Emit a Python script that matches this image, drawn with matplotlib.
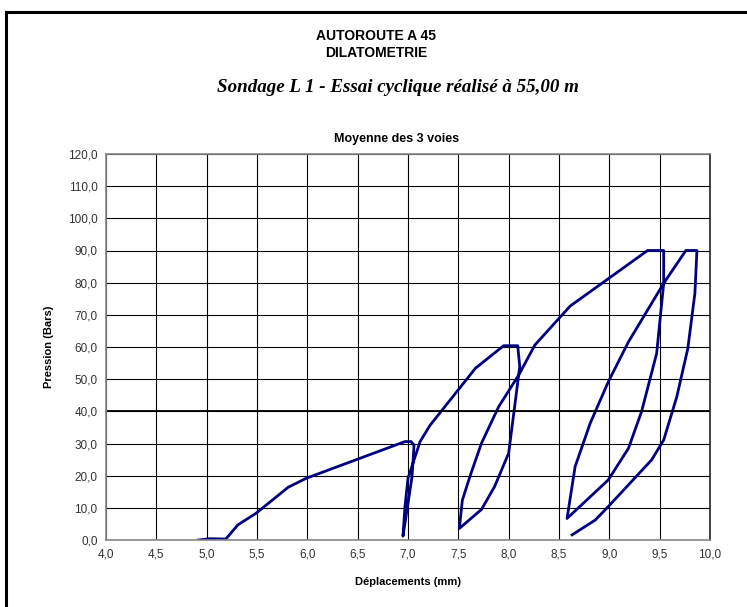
import matplotlib
matplotlib.use("Agg")
import matplotlib.pyplot as plt
from matplotlib.patches import Rectangle
from matplotlib.ticker import FuncFormatter, MultipleLocator

# Data
deplacement = [4.92, 5.03, 5.19, 5.31, 5.49, 5.81, 5.99, 6.97, 7.03, 7.06,
               7.04, 6.99, 6.95, 6.97, 7.00, 7.06, 7.12, 7.22, 7.67, 7.95,
               8.09, 8.11, 8.00, 7.86, 7.73, 7.51, 7.54, 7.62, 7.73, 7.90,
               8.10, 8.26, 8.61, 9.38, 9.54, 9.54, 9.47, 9.32, 9.19, 8.99,
               8.58, 8.66, 8.81, 8.99, 9.19, 9.54, 9.76, 9.87, 9.85, 9.78,
               9.67, 9.54, 9.42, 8.99, 8.86, 8.63]
pression = [0.0, 0.4, 0.3, 4.7, 8.3, 16.4, 19.2, 30.6, 30.6, 29.5,
            19.7, 9.3, 1.2, 10.4, 19.2, 24.9, 30.6, 35.7, 53.4, 60.4,
            60.4, 53.9, 27.0, 16.6, 9.5, 3.6, 12.4, 20.2, 30.1, 41.4,
            51.3, 60.6, 72.7, 90.0, 90.0, 79.8, 58.0, 39.9, 28.5, 18.7,
            6.7, 22.8, 36.3, 49.2, 61.6, 79.8, 90.0, 90.0, 76.7, 59.6,
            44.5, 31.1, 24.9, 10.4, 6.2, 1.6]

title1 = "AUTOROUTE A 45"
title2 = "DILATOMETRIE"
subtitle = "Sondage L 1 - Essai cyclique réalisé à 55,00 m"
chart_title = "Moyenne des 3 voies"
xlabel = "Déplacements (mm)"
ylabel = "Pression (Bars)"

W, H = 747, 607
fig = plt.figure(figsize=(W / 100, H / 100), dpi=100)
plt.rcParams['font.family'] = ['Liberation Sans', 'DejaVu Sans']

L, R, T, B = 106, 710, 154, 540
ax = fig.add_axes([L / W, 1 - B / H, (R - L) / W, (B - T) / H])

ax.plot(deplacement, pression, color='#000080', lw=2.0, solid_joinstyle='round')

ax.set_xlim(4.0, 10.0)
ax.set_ylim(0, 120)
ax.xaxis.set_major_locator(MultipleLocator(0.5))
ax.yaxis.set_major_locator(MultipleLocator(10))
fmt = FuncFormatter(lambda v, p: f"{v:.1f}".replace('.', ','))
ax.xaxis.set_major_formatter(fmt)
ax.yaxis.set_major_formatter(fmt)
ax.grid(True, color='black', lw=0.8)
ax.axhline(40, color='black', lw=1.3)
ax.set_axisbelow(True)
ax.tick_params(axis='both', length=0, pad=6, labelsize=8.5, labelcolor='#333333')
for s in ax.spines.values():
    s.set_color('#888888')
    s.set_linewidth(1.2)
ax.spines['right'].set_color('#222222')

ax.set_xlabel(xlabel, fontsize=8, fontweight='bold', labelpad=12)
ax.set_ylabel(ylabel, fontsize=8, fontweight='bold', labelpad=10)

def fx(px):
    return px / W

def fy(py):
    return 1 - py / H

fig.text(fx(376), fy(36), title1, ha='center', va='center', fontsize=10, fontweight='bold')
fig.text(fx(376), fy(53), title2, ha='center', va='center', fontsize=10, fontweight='bold')
fig.text(fx(398), fy(88), subtitle, ha='center', va='center', fontsize=13.7,
         fontstyle='italic', fontweight='bold', family=['Liberation Serif', 'DejaVu Serif'])
fig.text(fx(397), fy(139), chart_title, ha='center', va='center', fontsize=9, fontweight='bold')

frame = Rectangle((6 / W, -0.05), 1.2, fy(12) + 0.05, transform=fig.transFigure,
                  fill=False, edgecolor='black', lw=2.2)
fig.patches.append(frame)

fig.savefig("out.png", dpi=100)
